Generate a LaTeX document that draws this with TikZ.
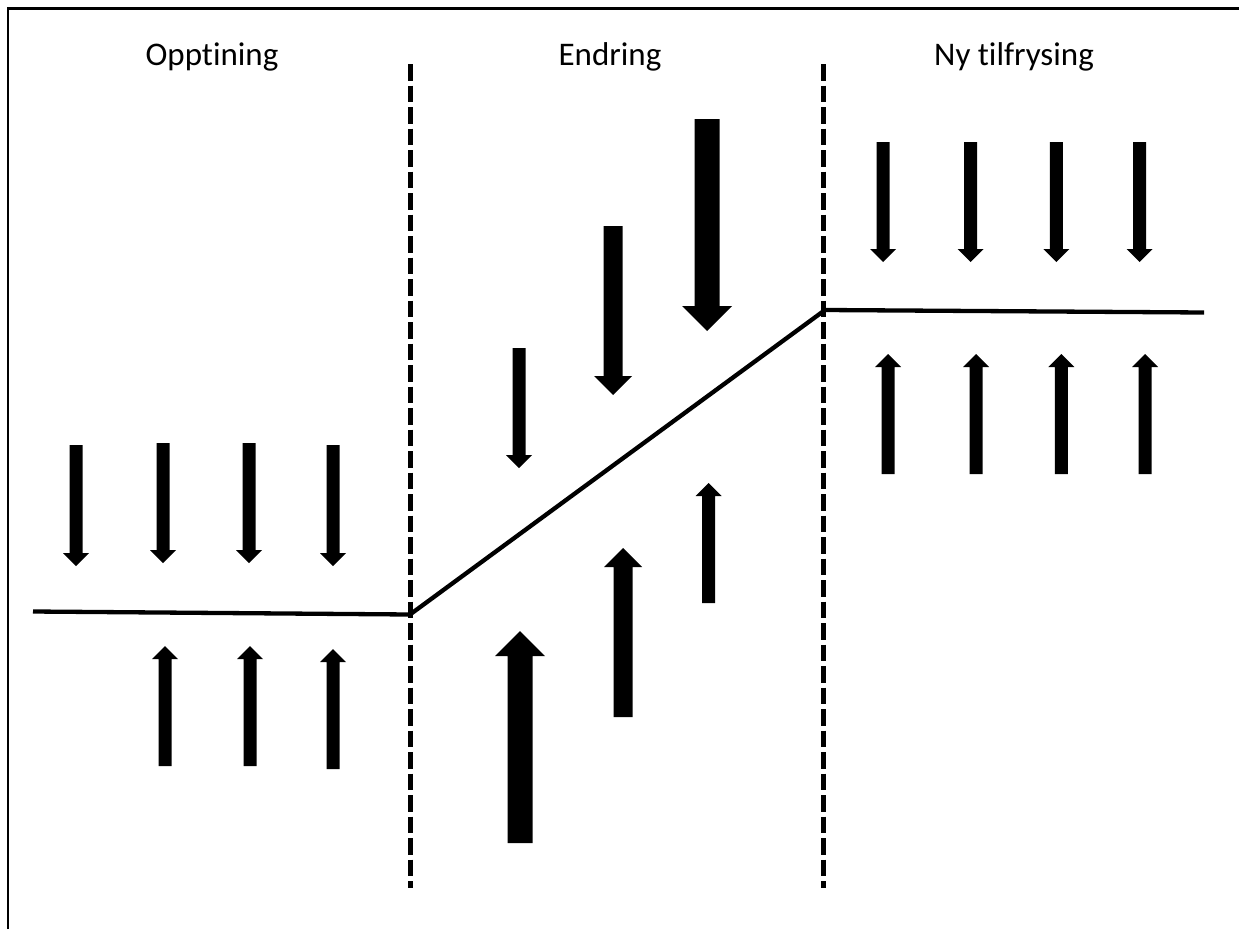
\documentclass[tikz,border=0pt]{standalone}
\usepackage{fontspec}
\setmainfont[Ligatures=NoCommon]{Carlito}

% Block arrow: #1 = x of axis, #2 = y of tail, #3 = y of tip, #4 = shaft width.
% The head is twice as wide as the shaft and as long as the shaft is wide.
\newcommand{\fatarrow}[4]{%
  \pgfmathsetmacro\faw{#4/2}%
  \pgfmathsetmacro\fab{#3-sign(#3-#2)*#4}%
  \fill (#1-\faw,#2) -- (#1+\faw,#2) -- (#1+\faw,\fab) -- (#1+#4,\fab)
        -- (#1,#3) -- (#1-#4,\fab) -- (#1-\faw,\fab) -- cycle;
}

\begin{document}
\begin{tikzpicture}[x=1pt,y=-1pt,
  frame/.style={line width=2.5pt},
  divider/.style={line width=5pt, dash pattern=on 16.5pt off 5pt},
  front/.style={line width=4.3pt, line join=miter},
  heading/.style={font=\fontsize{33}{40}\selectfont, anchor=base, inner sep=0pt}]
\useasboundingbox (0,0) rectangle (1239,929);

% outer frame (top and left sides)
\draw[frame] (7.8,929) -- (7.8,8.5) -- (1239,8.5);

% section headings
\node[heading] (h1) at (212,65) {Opptining};
\node[heading] (h2) at (610,65) {Endring};
\node[heading] (h3) at (1014,65) {Ny tilfrysing};

% dashed dividers between the stages
\coordinate (d1a) at (410,64);  \coordinate (d1b) at (410,888);
\coordinate (d2a) at (823,64);  \coordinate (d2b) at (823,888);
\draw[divider] (d1a) -- (d1b);
\draw[divider] (d2a) -- (d2b);

% freezing front
\coordinate (f0) at (33,611.5);
\coordinate (f1) at (410,614.5);
\coordinate (f2) at (825,310);
\coordinate (f3) at (1204,312.5);
\draw[front] (f0) -- (f1) -- (f2) -- (f3);

% Opptining
\fatarrow{76}{445}{566}{13}
\fatarrow{163}{443}{563}{13}
\fatarrow{249}{443}{563}{13}
\fatarrow{333}{445}{566}{13}
\fatarrow{165}{766}{646}{13}
\fatarrow{250}{766}{646}{13}
\fatarrow{333}{769}{649}{13}

% Endring
\fatarrow{519}{348}{468}{13}
\fatarrow{613}{226}{395}{19}
\fatarrow{707}{119}{331}{25}
\fatarrow{520}{843}{631}{25}
\fatarrow{623}{717}{548}{19}
\fatarrow{708.5}{603}{483}{13}

% Ny tilfrysing
\fatarrow{883}{142}{262}{13}
\fatarrow{970.7}{142}{262}{13}
\fatarrow{1056.3}{142}{262}{13}
\fatarrow{1139.7}{142}{262}{13}
\fatarrow{888}{474}{354}{13}
\fatarrow{976}{474}{354}{13}
\fatarrow{1061.3}{474}{354}{13}
\fatarrow{1145.2}{474}{354}{13}
\end{tikzpicture}
\end{document}
